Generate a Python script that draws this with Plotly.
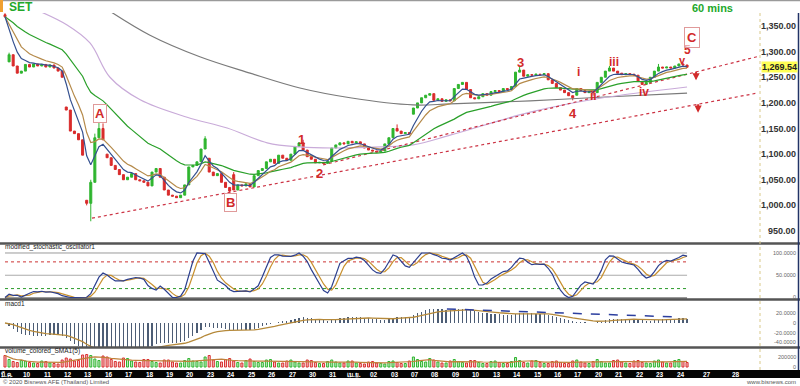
import plotly.graph_objects as go
import pandas as pd

W, H = 800, 386
BARS_PER_DAY = 5

# ---------------- data ----------------
day_labels = ["มี.ค.", "10", "11", "12", "13", "16", "17", "18", "19", "20", "23", "24",
              "25", "26", "27", "30", "31", "เม.ย.", "02", "03", "07", "08", "09", "10",
              "13", "14", "15", "16", "17", "20", "21", "22", "23", "24"]
future_labels = ["27", "28"]
future_label_bars = [172, 179]

close = [1368, 1294, 1272, 1258, 1262,
         1275, 1270, 1276, 1272, 1275,
         1270, 1274, 1268, 1262, 1250,
         1186, 1145, 1140, 1128, 1098,
         1004, 1045, 1132, 1150, 1128,
         1093, 1078, 1070, 1060, 1050,
         1055, 1062, 1050, 1048, 1045,
         1038, 1065, 1072, 1055, 1030,
         1020, 1018, 1015, 1020, 1040,
         1075, 1078, 1085, 1110, 1130,
         1065, 1058, 1062, 1045, 1035,
         1028, 1030, 1040, 1038, 1042,
         1036, 1058, 1068, 1072, 1085,
         1090, 1082, 1098, 1092, 1088,
         1100, 1115, 1122, 1108, 1095,
         1090, 1083, 1084, 1082, 1086,
         1112, 1118, 1122, 1120, 1125,
         1122, 1124, 1120, 1112, 1108,
         1106, 1104, 1106, 1120, 1132,
         1150, 1145, 1140, 1142, 1140,
         1190, 1200, 1210, 1215, 1218,
         1205, 1208, 1203, 1206, 1204,
         1228, 1236, 1240, 1226, 1210,
         1208, 1212, 1218, 1215, 1222,
         1224, 1222, 1228, 1226, 1232,
         1260, 1264, 1252, 1255, 1254,
         1256, 1255, 1257, 1245, 1238,
         1230, 1225, 1220, 1214, 1210,
         1228, 1224, 1220, 1222, 1220,
         1240, 1250, 1262, 1268, 1262,
         1258, 1255, 1257, 1256, 1254,
         1242, 1236, 1240, 1250, 1262,
         1270, 1268, 1270, 1268, 1272,
         1276, 1274, 1269.54]
open_gaps = {0: 1372, 1: 1280, 15: 1192, 20: 1010, 25: 1100, 50: 1092,
             56: 1060, 100: 1178, 140: 1215}
high_ext = {0: 1375, 1: 1298, 21: 1050, 22: 1140, 23: 1162, 24: 1160, 49: 1135,
            56: 1065, 73: 1128, 96: 1158, 126: 1270, 148: 1272, 160: 1276}
low_ext = {20: 1000, 21: 969, 55: 1025, 139: 1205, 144: 1214}

volume_k = [230, 150, 110, 90, 130,
            120, 90, 80, 70, 120,
            110, 80, 70, 60, 140,
            180, 160, 120, 130, 240,
            250, 230, 160, 130, 220,
            200, 150, 110, 100, 180,
            170, 120, 100, 90, 150,
            150, 110, 90, 80, 140,
            140, 100, 80, 80, 130,
            170, 120, 110, 100, 200,
            230, 140, 110, 100, 150,
            170, 120, 90, 80, 130,
            160, 110, 90, 90, 140,
            150, 100, 80, 80, 120,
            140, 100, 80, 80, 140,
            130, 90, 70, 70, 110,
            140, 100, 80, 80, 120,
            120, 80, 70, 60, 100,
            110, 80, 70, 60, 110,
            120, 90, 70, 70, 120,
            200, 150, 110, 100, 170,
            140, 100, 80, 80, 120,
            150, 110, 90, 80, 130,
            130, 90, 70, 70, 110,
            120, 90, 70, 70, 110,
            190, 130, 90, 80, 120,
            130, 90, 70, 70, 110,
            120, 90, 70, 70, 120,
            140, 100, 80, 70, 110,
            150, 110, 80, 80, 130,
            140, 100, 80, 70, 120,
            130, 90, 80, 70, 120,
            140, 100, 80, 80, 130,
            150, 110, 90]

# long moving averages (history beyond the window), read at sample bars
lavender_bar = [8.1, 15.2, 20.8, 25.7, 33.1, 44.6, 54.4, 64.2, 72.2, 80.3, 91.8, 99.9, 109, 128.6, 145.7, 167]
lavender_val = [1380, 1352, 1317, 1250, 1206, 1172, 1151, 1122, 1114, 1112, 1114, 1118, 1137, 1182, 1209, 1231]
grey_bar = [24.5, 35.5, 47.7, 60, 72.2, 84.5, 99.9, 109, 128.6, 145.7, 167]
grey_val = [1385, 1332, 1290, 1258, 1229, 1210, 1196, 1198, 1204, 1211, 1219]

# analyst trend lines
trend_lower_bar = [21.3, 184.1]
trend_lower_val = [975, 1219]
trend_upper_bar = [77.9, 184.1]
trend_upper_val = [1079, 1290]
macd_trend_bar = [108.2, 164.8]
macd_trend_val = [29, 12.4]

last_price = 1269.54

main_ticks = [950, 1000, 1050, 1100, 1150, 1200, 1250, 1300, 1350]
stoch_ticks = [0, 50, 100]
macd_ticks = [-40, -20, 0, 20]
vol_ticks = [0, 200000]

# ---------------- derived ----------------
n = len(close)
x = list(range(n))
opens = [open_gaps.get(i, close[i - 1] if i > 0 else close[0]) for i in range(n)]
highs = [high_ext.get(i, max(opens[i], close[i])) for i in range(n)]
lows = [low_ext.get(i, min(opens[i], close[i])) for i in range(n)]
volume = [v * 1000 for v in volume_k]

c = pd.Series(close, dtype=float)
hs = pd.Series(highs, dtype=float)
ls = pd.Series(lows, dtype=float)
ema_fast = c.ewm(span=5, adjust=False).mean()
ema_mid = c.ewm(span=9, adjust=False).mean()
ema_slow = c.ewm(span=27, adjust=False).mean()

hh = hs.rolling(14, min_periods=1).max()
ll = ls.rolling(14, min_periods=1).min()
raw = (100 * (c - ll) / (hh - ll)).fillna(20)
stoch_k = raw.rolling(3, min_periods=1).mean()
stoch_d = stoch_k.rolling(3, min_periods=1).mean()

macd = c.ewm(span=12, adjust=False).mean() - c.ewm(span=26, adjust=False).mean()
signal = macd.ewm(span=9, adjust=False).mean()
vol_sma = pd.Series(volume, dtype=float).rolling(5, min_periods=1).mean()

up = [close[i] >= opens[i] for i in range(n)]
vol_line_col = ["#2fb52f" if u else "#d93030" for u in up]
vol_fill_col = ["rgba(47,181,47,0.30)" if u else "rgba(217,48,48,0.30)" for u in up]

# ---------------- layout helpers ----------------
def py(px):
    return 1 - px / H

def pxx(px):
    return px / W

XR = [-1.224, 184.86]
XD = [0, 0.95]
FONT = "Liberation Sans, Arial, sans-serif"

fig = go.Figure()

# main panel
fig.add_trace(go.Scatter(x=grey_bar, y=grey_val, mode="lines", line_shape="spline",
                         line=dict(color="#7a7a7a", width=1.2), xaxis="x", yaxis="y"))
fig.add_trace(go.Scatter(x=lavender_bar, y=lavender_val, mode="lines", line_shape="spline",
                         line=dict(color="#c9abd9", width=1.2), xaxis="x", yaxis="y"))
fig.add_trace(go.Scatter(x=trend_lower_bar, y=trend_lower_val, mode="lines",
                         line=dict(color="#cc3344", width=1.2, dash="dot"), xaxis="x", yaxis="y"))
fig.add_trace(go.Scatter(x=trend_upper_bar, y=trend_upper_val, mode="lines",
                         line=dict(color="#cc3344", width=1.2, dash="dot"), xaxis="x", yaxis="y"))
fig.add_trace(go.Scatter(x=x, y=ema_slow, mode="lines",
                         line=dict(color="#2aa02a", width=1.2), xaxis="x", yaxis="y"))
fig.add_trace(go.Scatter(x=x, y=ema_mid, mode="lines",
                         line=dict(color="#b58a4a", width=1.2), xaxis="x", yaxis="y"))
fig.add_trace(go.Scatter(x=x, y=ema_fast, mode="lines",
                         line=dict(color="#34508f", width=1.2), xaxis="x", yaxis="y"))
fig.add_trace(go.Candlestick(x=x, open=opens, high=highs, low=lows, close=close,
                             increasing=dict(line=dict(color="#2fb52f", width=1), fillcolor="#2fb52f"),
                             decreasing=dict(line=dict(color="#d92b2b", width=1), fillcolor="#d92b2b"),
                             whiskerwidth=0, xaxis="x", yaxis="y"))

# stochastic panel
lvl_x = [0, n - 1]
fig.add_trace(go.Scatter(x=lvl_x, y=[100, 100], mode="lines", line=dict(color="#9a9a9a", width=1), xaxis="x2", yaxis="y2"))
fig.add_trace(go.Scatter(x=lvl_x, y=[80, 80], mode="lines", line=dict(color="#cc3333", width=1, dash="dot"), xaxis="x2", yaxis="y2"))
fig.add_trace(go.Scatter(x=lvl_x, y=[50, 50], mode="lines", line=dict(color="#aaaaaa", width=1), xaxis="x2", yaxis="y2"))
fig.add_trace(go.Scatter(x=lvl_x, y=[20, 20], mode="lines", line=dict(color="#2a9a2a", width=1, dash="dot"), xaxis="x2", yaxis="y2"))
fig.add_trace(go.Scatter(x=lvl_x, y=[-1, -1], mode="lines", line=dict(color="#9a9a9a", width=2), xaxis="x2", yaxis="y2"))
fig.add_trace(go.Scatter(x=x, y=stoch_d, mode="lines", line=dict(color="#c8902e", width=1.2), xaxis="x2", yaxis="y2"))
fig.add_trace(go.Scatter(x=x, y=stoch_k, mode="lines", line=dict(color="#2c3f8f", width=1.2), xaxis="x2", yaxis="y2"))

# macd panel
fig.add_trace(go.Bar(x=x, y=macd, width=0.3, marker=dict(color="#4d5d75", line=dict(width=0)), xaxis="x3", yaxis="y3"))
fig.add_trace(go.Scatter(x=x, y=signal, mode="lines", line=dict(color="#b5893a", width=1.3), xaxis="x3", yaxis="y3"))
fig.add_trace(go.Scatter(x=macd_trend_bar, y=macd_trend_val, mode="lines",
                         line=dict(color="#2c3f9f", width=1.5, dash="dash"), xaxis="x3", yaxis="y3"))

# volume panel
fig.add_trace(go.Bar(x=x, y=volume, width=0.5,
                     marker=dict(color=vol_fill_col, line=dict(color=vol_line_col, width=1)),
                     xaxis="x4", yaxis="y4"))
fig.add_trace(go.Scatter(x=x, y=vol_sma, mode="lines", line=dict(color="#c0803a", width=1.2), xaxis="x4", yaxis="y4"))

# ---------------- axes ----------------
def xax(anchor):
    return dict(domain=XD, range=XR, showticklabels=False, showgrid=False, zeroline=False,
                showline=False, ticks="", anchor=anchor, rangeslider=dict(visible=False))

def yax(dom, rng, anchor):
    return dict(domain=dom, range=rng, side="right", anchor=anchor, showticklabels=False,
                showgrid=False, zeroline=False, ticks="", showline=False)

fig.update_layout(
    width=W, height=H, margin=dict(l=0, r=0, t=0, b=0),
    paper_bgcolor="white", plot_bgcolor="white", showlegend=False,
    bargap=0,
    xaxis=xax("y"), xaxis2=dict(xax("y2"), matches="x"),
    xaxis3=dict(xax("y3"), matches="x"), xaxis4=dict(xax("y4"), matches="x"),
    yaxis=yax([py(243), py(13)], [926.6, 1375.4], "x"),
    yaxis2=yax([py(299), py(244)], [-3.4, 120.2], "x2"),
    yaxis3=yax([py(347), py(300)], [-49.7, 47.6], "x3"),
    yaxis4=yax([py(370), py(348)], [-60000, 380000], "x4"),
)

# ---------------- shapes ----------------
shapes = []
def hline(ypx, color, width, x0=0, x1=1):
    shapes.append(dict(type="line", xref="paper", yref="paper", x0=x0, x1=x1,
                       y0=py(ypx), y1=py(ypx), line=dict(color=color, width=width)))

hline(0.5, "#9a9a9a", 1.5)
hline(243.5, "#555555", 2.5)
hline(299.5, "#555555", 2.5)
hline(347.5, "#555555", 2.5)
shapes.append(dict(type="rect", xref="paper", yref="paper", x0=0, x1=1, y0=py(378), y1=py(370),
                   fillcolor="#050505", line=dict(width=0)))
shapes.append(dict(type="line", xref="paper", yref="paper", x0=0.95, x1=0.95, y0=py(370), y1=py(13),
                   line=dict(color="#d9c98a", width=1, dash="dot")))
shapes.append(dict(type="line", xref="paper", yref="paper", x0=pxx(798.5), x1=pxx(798.5), y0=py(370), y1=py(13),
                   line=dict(color="#223366", width=1.5)))
shapes.append(dict(type="rect", xref="paper", yref="paper", x0=0, x1=pxx(3), y0=py(12), y1=py(0),
                   fillcolor="#f0a030", line=dict(width=0)))
fig.update_layout(shapes=shapes)

# ---------------- annotations ----------------
ann = []
RED = "#d22a2a"

def txt(t, xv, yv, size, color=RED, bold=True, xref="x", yref="y", xanchor="center", yanchor="middle", **kw):
    ann.append(dict(text=t, x=xv, y=yv, xref=xref, yref=yref, showarrow=False,
                    xanchor=xanchor, yanchor=yanchor,
                    font=dict(family=FONT, size=size, color=color, weight="bold" if bold else "normal"), **kw))

# right-hand axis labels
for v in main_ticks:
    txt(f"{v:,.2f}", pxx(797.5), v, 9, color="#333333", xref="paper", yref="y", xanchor="right")
for v, t in zip(stoch_ticks, ["0", "50.0000", "100.0000"]):
    txt(t, pxx(797.5), v, 5.5, color="#666666", bold=False, xref="paper", yref="y2", xanchor="right")
for v, t in zip(macd_ticks, ["-40.0000", "-20.0000", "0", "20.0000"]):
    txt(t, pxx(797.5), v, 5.5, color="#666666", bold=False, xref="paper", yref="y3", xanchor="right")
for v, t in zip(vol_ticks, ["0", "200000"]):
    txt(t, pxx(797.5), v, 5.5, color="#666666", bold=False, xref="paper", yref="y4", xanchor="right")

# last price
ann.append(dict(text=f"{last_price:,.2f}", x=pxx(797.5), y=last_price, xref="paper", yref="y",
                xanchor="right", showarrow=False, bgcolor="#ffff55", borderpad=0,
                font=dict(family=FONT, size=9, color="#222222", weight="bold")))

txt("SET", pxx(7), py(7), 12, color="#22a82a", xref="paper", yref="paper", xanchor="left")
txt("60 mins", pxx(735), py(8), 11, color="#22a82a", xref="paper", yref="paper", xanchor="right")

# wave labels
txt("1", 72.7, 1128, 13)
txt("2", 76.9, 1063, 13)
txt("3", 126.3, 1278, 13)
txt("4", 139.1, 1180, 13)
txt("5", 167, 1304, 12)
txt("i", 140.5, 1260, 12)
txt("ii", 144.2, 1214, 12)
txt("iii", 149.1, 1280, 12)
txt("iv", 156.5, 1221, 12)
txt("v", 166, 1283, 11)
for lab, bx, pv, pad in [("A", 23.3, 1180, 1), ("B", 55.3, 1005, 1), ("C", 168.2, 1327, 2)]:
    ann.append(dict(text=lab, x=bx, y=pv, xref="x", yref="y", showarrow=False,
                    font=dict(family=FONT, size=13, color=RED, weight="bold"),
                    bordercolor="#e09a9a", borderwidth=1, borderpad=pad,
                    bgcolor="rgba(255,255,255,0.6)"))
for bx, tip in [(169.2, 1244), (169.7, 1181)]:
    ann.append(dict(text="", x=bx, y=tip, xref="x", yref="y", showarrow=True,
                    ax=0, ay=-10, arrowhead=2, arrowsize=0.8, arrowwidth=1.8, arrowcolor=RED))

# panel titles
txt("modified_stochastic_oscillator1", pxx(3), py(247.5), 6.5, color="#222222", bold=False,
    xref="paper", yref="paper", xanchor="left")
txt("macd1", pxx(3), py(303.5), 6.5, color="#222222", bold=False, xref="paper", yref="paper", xanchor="left")
txt("volume_colored_SMA1(5)", pxx(3), py(351), 6.5, color="#222222", bold=False,
    xref="paper", yref="paper", xanchor="left")

# date labels
for d, lab in enumerate(day_labels):
    txt(lab, d * BARS_PER_DAY + 0.4, py(374), 6.5, color="white", bold=True, yref="paper")
for lab, bx in zip(future_labels, future_label_bars):
    txt(lab, bx, py(374), 6.5, color="white", bold=True, yref="paper")

# footer
txt("© 2020 Bisnews AFE (Thailand) Limited", pxx(1), py(382), 6, color="#555555", bold=False,
    xref="paper", yref="paper", xanchor="left")
txt("www.bisnews.com", pxx(798), py(382), 6, color="#555555", bold=False,
    xref="paper", yref="paper", xanchor="right")

fig.update_layout(annotations=ann)
fig.write_html("out.html",
               config={"displayModeBar": False, "staticPlot": True},
               post_script="document.body.style.margin='0px';document.body.style.padding='0px';"
                           "document.body.style.overflow='hidden';")
